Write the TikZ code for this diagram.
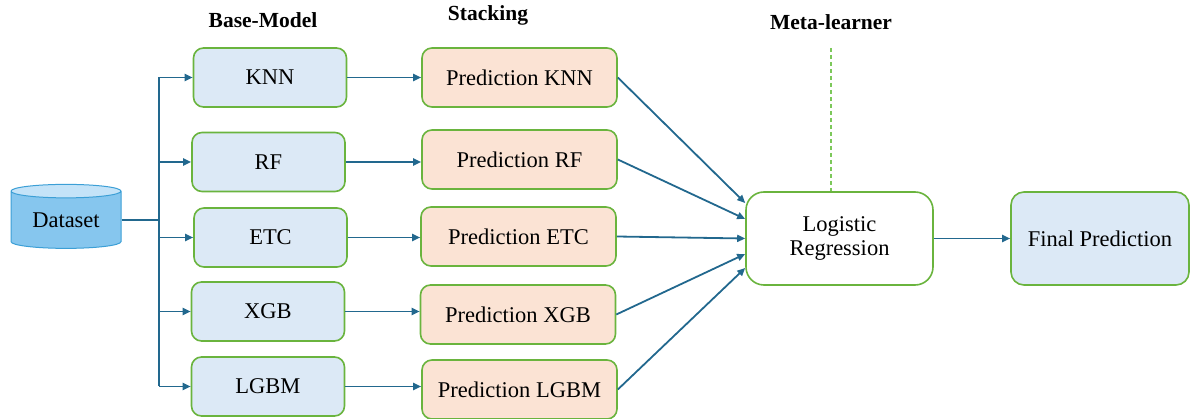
\documentclass[tikz,border=0pt]{standalone}
\usepackage{fontspec}
\setmainfont{Liberation Serif}
\usetikzlibrary{shapes.geometric,arrows.meta,calc}
\definecolor{gbord}{HTML}{6AB43E}
\definecolor{bfill}{HTML}{DCE9F6}
\definecolor{sfill}{HTML}{FBE3D4}
\definecolor{arrc}{HTML}{22688E}
\definecolor{dashg}{HTML}{7CC85A}
\definecolor{cylend}{HTML}{C4E3F8}
\definecolor{cylbody}{HTML}{86C6EE}
\definecolor{cylbord}{HTML}{3C9FD6}
\tikzset{
  box/.style={draw=gbord, line width=1.6pt, rounded corners=10pt, align=center,
    font=\rmfamily\fontsize{22.5}{24}\selectfont, inner sep=0pt},
  basebox/.style={box, fill=bfill, minimum width=153pt, minimum height=59pt},
  stackbox/.style={box, fill=sfill, minimum width=195pt, minimum height=59pt},
  bigbox/.style={box, minimum height=93pt, rounded corners=16pt},
  hdr/.style={font=\rmfamily\bfseries\fontsize{21.5}{24}\selectfont},
  arr/.style={draw=arrc, line width=1.8pt, -{Triangle[length=8pt,width=7pt]}},
  ln/.style={draw=arrc, line width=1.8pt},
}
\begin{document}
\begin{tikzpicture}[x=1pt,y=-1pt]
\useasboundingbox (0,0) rectangle (1192,419);
% headers
\node[hdr] (h1) at (263,20) {Base-Model};
\node[hdr] (h2) at (488,15) {Stacking};
\node[hdr] (h3) at (831,22) {Meta-learner};
% dataset
\node[cylinder, shape border rotate=90, aspect=0.2, draw=cylbord, line width=1pt,
  cylinder uses custom fill, cylinder end fill=cylend, cylinder body fill=cylbody,
  minimum width=110pt, minimum height=64pt, inner sep=0pt,
  font=\rmfamily\fontsize{22.5}{24}\selectfont] (data) at (66,220) {Dataset};
% base models
\node[basebox] (knn) at (270,77.5) {KNN};
\node[basebox] (rf) at (268.5,162) {RF};
\node[basebox] (etc) at (270.5,237.5) {ETC};
\node[basebox] (xgb) at (268,311.5) {XGB};
\node[basebox] (lgbm) at (268,386.5) {LGBM};
% stacking
\node[stackbox] (pknn) at (519.5,77.5) {Prediction KNN};
\node[stackbox] (prf) at (519.5,159.5) {Prediction RF};
\node[stackbox] (petc) at (518.5,236.5) {Prediction ETC};
\node[stackbox] (pxgb) at (518,314.5) {Prediction XGB};
\node[stackbox] (plgbm) at (519.5,389.5) {Prediction LGBM};
% meta
\node[bigbox, minimum width=187pt, rounded corners=18pt] (lr) at (839.5,238.5) {Logistic\\Regression};
\node[bigbox, fill=bfill, minimum width=178pt, rounded corners=13pt] (final) at (1100,238.5) {Final Prediction};
% trunk
\coordinate (tx) at (159,0);
\draw[ln] (knn.west -| tx) -- (lgbm.west -| tx);
\draw[ln] (data.east) -- (data.east -| tx);
\foreach \n in {knn,rf,etc,xgb,lgbm}{
  \draw[arr] (\n.west -| tx) -- (\n.west);
}
\draw[arr] (knn.east) -- (knn.east -| pknn.west);
\draw[arr] (rf.east) -- (rf.east -| prf.west);
\draw[arr] (etc.east) -- (etc.east -| petc.west);
\draw[arr] (xgb.east) -- (xgb.east -| pxgb.west);
\draw[arr] (lgbm.east) -- (lgbm.east -| plgbm.west);
% into meta
\draw[arr] (pknn.east) -- ([yshift=35.5pt]lr.west);
\draw[arr] (prf.east) -- ([yshift=19.5pt]lr.west);
\draw[arr] (petc.east) -- (lr.west);
\draw[arr] (pxgb.east) -- ([yshift=-15.5pt]lr.west);
\draw[arr] (plgbm.east) -- ([yshift=-29.5pt]lr.west);
\draw[arr] (lr.east) -- (final.west);
% dashed
\coordinate (mtop) at (831,48);
\draw[draw=dashg, line width=1.2pt, dash pattern=on 4pt off 3pt] (mtop) -- (mtop |- lr.north);
\end{tikzpicture}
\end{document}
